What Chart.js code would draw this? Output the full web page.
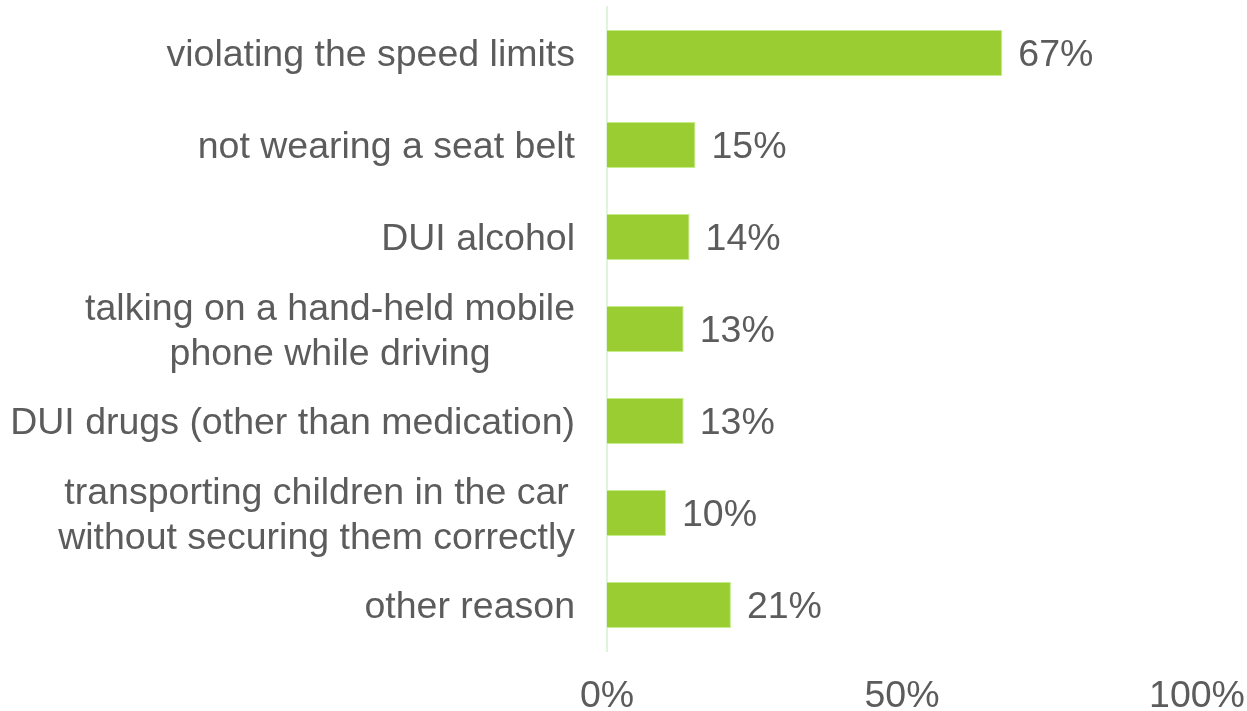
<!DOCTYPE html>
<html>
<head>
<meta charset="utf-8">
<title>Traffic offences</title>
<script src="https://cdn.jsdelivr.net/npm/chart.js@4/dist/chart.umd.min.js"></script>
<style>
    html, body { margin: 0; padding: 0; background: #ffffff; }
    #offenceChart { display: block; }
</style>
</head>
<body>
<canvas id="offenceChart" width="1247" height="711"></canvas>
<script>
// Chart data
const categories = [
    ['violating the speed limits'],
    ['not wearing a seat belt'],
    ['DUI alcohol'],
    ['talking on a hand-held mobile', 'phone while driving'],
    ['DUI drugs (other than medication)'],
    ['transporting children in the car', 'without securing them correctly'],
    ['other reason']
];
const shares = [67, 15, 14, 13, 13, 10, 21];
const xTicks = [0, 50, 100];

const textColor = '#5c5c5c';
const fontFamily = "'Liberation Sans', Arial, sans-serif";
const fontSize = 37.5;
// small nudge so the glyphs sit on the bar centre line
const baselineShift = 3;

// Category labels: block right-aligned against the axis, lines centred inside the block
const categoryLabels = {
    id: 'categoryLabels',
    afterDraw(chart) {
        const ctx = chart.ctx;
        const yScale = chart.scales.y;
        const right = chart.chartArea.left - 32;
        const lineHeight = fontSize * 1.2;
        ctx.save();
        ctx.font = fontSize + 'px ' + fontFamily;
        ctx.fillStyle = textColor;
        ctx.textAlign = 'center';
        ctx.textBaseline = 'middle';
        categories.forEach((lines, i) => {
            const y = yScale.getPixelForValue(i) + baselineShift;
            const blockWidth = Math.max(...lines.map(l => ctx.measureText(l).width));
            const cx = right - blockWidth / 2;
            const startY = y - (lines.length - 1) * lineHeight / 2;
            lines.forEach((line, j) => {
                ctx.fillText(line, cx, startY + j * lineHeight);
            });
        });
        ctx.restore();
    }
};

// Value labels just past the end of each bar
const valueLabels = {
    id: 'valueLabels',
    afterDatasetsDraw(chart) {
        const ctx = chart.ctx;
        const meta = chart.getDatasetMeta(0);
        ctx.save();
        ctx.font = fontSize + 'px ' + fontFamily;
        ctx.fillStyle = textColor;
        ctx.textAlign = 'left';
        ctx.textBaseline = 'middle';
        meta.data.forEach((bar, i) => {
            ctx.fillText(shares[i] + '%', bar.x + 16, bar.y + baselineShift);
        });
        ctx.restore();
    }
};

const offenceChart = new Chart(document.getElementById('offenceChart'), {
    type: 'bar',
    data: {
        labels: categories,
        datasets: [{
            data: shares,
            backgroundColor: '#9acd32',
            borderColor: '#c6ec8c',
            borderWidth: 1,
            borderSkipped: 'left',
            categoryPercentage: 1,
            barPercentage: 0.5
        }]
    },
    options: {
        indexAxis: 'y',
        responsive: false,
        animation: false,
        layout: {
            padding: { top: 7, right: 50, left: 0, bottom: 0 }
        },
        plugins: {
            legend: { display: false },
            tooltip: { enabled: false }
        },
        scales: {
            x: {
                min: 0,
                max: 100,
                afterBuildTicks(scale) {
                    scale.ticks = xTicks.map(v => ({ value: v }));
                },
                afterFit(scale) {
                    scale.height = 60;
                    // let the layout padding decide the right edge
                    scale.paddingLeft = 0;
                    scale.paddingRight = 0;
                },
                grid: { display: false, drawTicks: false },
                border: { display: false },
                ticks: {
                    padding: 23,
                    color: textColor,
                    font: { family: fontFamily, size: fontSize },
                    callback: v => v + '%'
                }
            },
            y: {
                afterFit(scale) {
                    scale.width = 607;
                },
                grid: { display: false, drawTicks: false },
                border: { display: true, color: '#e0f3dc', width: 2 },
                ticks: { display: false }
            }
        }
    },
    plugins: [categoryLabels, valueLabels]
});
</script>
</body>
</html>
